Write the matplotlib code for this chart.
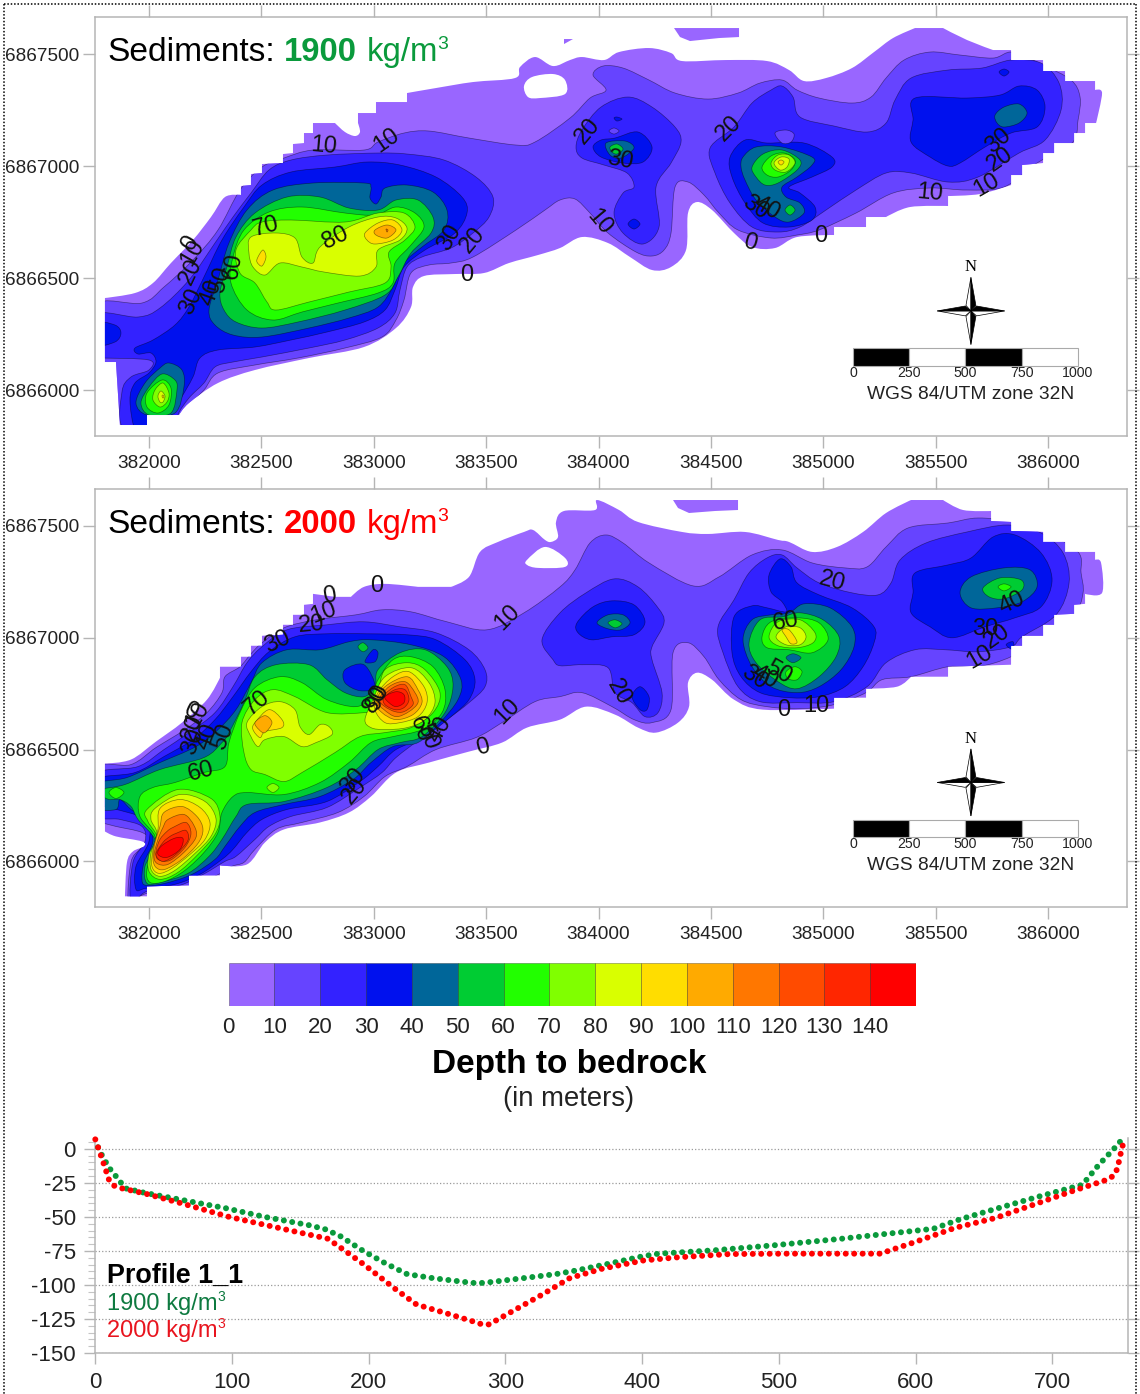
import numpy as np
import matplotlib
matplotlib.use("Agg")
import matplotlib.pyplot as plt
from matplotlib.path import Path
from matplotlib.patches import PathPatch, Polygon, Rectangle
from matplotlib.lines import Line2D

plt.rcParams['font.family'] = ['Liberation Sans', 'DejaVu Sans']
plt.rcParams['axes.unicode_minus'] = False

W, H = 1140, 1394

# colour classes of the depth scale (m)
depth_levels = list(range(0, 150, 10))
depth_colors = ['#9966FF', '#6644FF', '#3322FF', '#0011EE', '#006699', '#00CC33', '#22FF00', '#80FF00',
                '#D9FF00', '#FFDD00', '#FFAA00', '#FF7700', '#FF4B00', '#FF2600', '#FF0000']

# digitised map sheet units: 1 unit is about 4.45 m, calibrated on the grid ticks
SHEET_X0, SHEET_Y0 = 149.0, 390.0
M_PER_UNIT_X, M_PER_UNIT_Y = 500 / 112.4, 500 / 112.0

# ---------- map 1, 1900 kg/m3: contour outlines ----------
m1_domain = [(105,298),(105,362),(116,362),(120,425),(147,425),(147,415),(179,415),(189,403),(218,383),(255,370),(309,358),
    (364,347),(396,328),(411,307),(413,287),(424,276),(455,274),(484,273),(509,263),(538,255),(560,248),(582,237),(608,243),
    (630,257),(652,270),(671,267),(686,250),(688,213),(697,202),(712,210),(734,233),(752,247),(775,248),(797,237),(834,235),
    (834,227),(866,227),(866,217),(886,217),(910,207),(948,206),(948,196),(980,194),(1011,185),(1011,175),(1022,175),(1022,165),
    (1043,163),(1043,153),(1054,153),(1054,143),(1074,143),(1074,133),(1085,133),(1085,123),(1096,123),(1102,93),(1095,90),
    (1095,81),(1065,81),(1065,71),(1043,71),(1043,60),(1011,60),(1011,50),(993,50),(967,40),(943,28),(915,28),(893,38),(874,52),
    (852,68),(826,78),(804,81),(789,70),(767,61),(726,60),(682,61),(671,53),(649,48),(619,52),(604,60),(582,57),(570,60),(553,66),
    (535,57),(520,67),(515,78),(473,82),(436,88),(407,93),(407,102),(376,102),(376,113),(358,113),(358,123),(360,132),(355,136),
    (345,132),(335,123),(313,123),(313,133),(304,133),(304,143),(293,144),(293,153),(283,154),(283,163),(262,164),(262,173),
    (251,174),(251,185),(241,186),(241,195),(225,197),(211,217),(193,240),(171,263),(153,283),(135,293)]
m1_hole = [(524,86),(532,77),(553,74),(565,80),(565,94),(540,98),(528,97)]
m1_island_a = [(674,28),(739,28),(739,37),(719,38),(690,41),(680,37)]
m1_island_b = [(564,39),(573,39),(564,44)]

m1_c10 = [(95,305),(142,303),(164,287),(193,260),(218,230),(240,190),(262,167),(284,158),(313,150),(364,150),(378,142),(404,133),
    (429,131),(469,138),(516,145),(535,142),(570,118),(590,98),(606,90),(593,75),(603,66),(623,68),(649,80),(675,93),(708,99),
    (738,93),(760,83),(782,80),(797,90),(819,98),(852,103),(871,97),(886,78),(904,60),(930,52),(960,55),(993,58),(1013,52),(1043,65),
    (1071,80),(1080,97),(1078,120),(1072,143),(1037,163),(1004,187),(967,190),(930,188),(893,193),(856,213),(819,230),(797,235),
    (771,238),(738,230),(719,213),(704,195),(688,182),(675,187),(671,233),(664,250),(652,256),(636,252),(608,233),(590,213),
    (575,199),(560,200),(545,210),(516,230),(473,257),(451,263),(429,265),(411,273),(404,300),(396,320),(382,337),(345,348),
    (298,358),(255,365),(218,373),(204,390),(185,410),(175,430),(116,430),(116,400),(113,367),(100,362),(95,362)]
m1_c20_w = [(95,315),(138,317),(160,308),(189,280),(215,243),(233,217),(251,193),(269,170),(291,160),(327,155),(378,153),(407,154),
    (444,160),(476,177),(493,197),(489,217),(473,233),(451,248),(422,257),(407,267),(400,290),(395,313),(378,328),(345,340),
    (309,348),(262,357),(233,362),(215,367),(204,383),(189,398),(178,415),(178,430),(125,430),(122,392),(131,377),(149,370),
    (149,360),(100,358),(95,358)]
m1_c20_c = [(628,97),(652,107),(675,127),(681,142),(671,163),(656,187),(659,227),(643,244),(623,233),(614,213),(623,193),(634,187),
    (627,173),(604,165),(582,158),(576,147),(582,130),(601,107)]
m1_c20_e = [(782,86),(793,97),(800,117),(834,126),(867,132),(886,123),(895,100),(911,78),(948,70),(982,68),(1011,60),(1041,63),
    (1059,83),(1061,110),(1045,140),(1019,153),(978,177),(948,182),(911,173),(886,173),(856,190),(826,210),(800,227),(778,232),
    (752,227),(730,203),(715,173),(710,148),(734,127),(752,103),(771,90)]
m1_c30_a = [(95,323),(115,325),(121,333),(115,342),(95,345)]
m1_c30_w = [(135,348),(153,340),(175,325),(189,307),(204,277),(222,240),(244,207),(262,185),(291,172),(335,167),(367,162),(400,165),
    (436,177),(462,197),(467,213),(455,233),(425,250),(404,267),(395,290),(385,310),(364,322),(327,332),(291,340),(255,347),
    (218,350),(200,358),(193,377),(180,400),(171,415),(145,430),(135,430),(130,400),(135,383),(149,373),(156,362),(151,353),(138,354)]
m1_c30_c = [(615,138),(638,132),(652,147),(643,162),(623,163),(601,157),(593,147),(601,140)]
m1_c30_b = [(634,219),(640,224),(634,229),(628,224)]
m1_c30_d = [(614,118),(617,117),(622,119),(617,121)]
m1_c30_e = [(745,140),(767,143),(804,143),(832,157),(832,167),(812,177),(789,187),(800,193),(815,207),(812,220),(789,227),(763,223),
    (745,203),(732,177),(730,157)]
m1_c30_f = [(915,98),(967,98),(1000,95),(1019,86),(1037,90),(1045,107),(1037,127),(1011,133),(985,147),(960,163),(948,166),(930,157),
    (911,142),(913,120)]
m1_c30_g = [(999,72),(1004,69),(1009,72),(1004,76)]
m1_c10_i = [(609,131),(614,128),(619,131),(614,134)]
m1_c10_j = [(775,133),(786,130),(794,134),(791,142),(782,143)]
m1_c40_w = [(209,310),(218,280),(229,243),(247,210),(273,190),(313,183),(364,183),(371,187),(370,198),(376,204),(381,197),(385,188),
    (407,185),(433,192),(447,210),(444,230),(422,247),(404,263),(393,287),(378,307),(349,318),(309,328),(262,337),(233,335),(215,325)]
m1_c40_s = [(169,363),(182,370),(184,387),(175,413),(147,415),(136,403),(145,383),(160,368)]
m1_c40_c = [(606,143),(625,141),(634,148),(621,158),(610,155)]
m1_c40_e = [(743,157),(756,147),(782,147),(812,157),(812,165),(797,177),(782,187),(786,197),(800,203),(804,213),(789,222),(775,217),
    (756,200),(745,180),(741,167)]
m1_c40_f = [(995,115),(1004,107),(1019,104),(1027,113),(1019,123),(1004,127),(997,123)]
m1_c50_w = [(220,293),(227,267),(236,237),(255,213),(287,197),(320,197),(349,208),(378,210),(396,200),(418,200),(433,217),(431,233),
    (411,253),(398,277),(385,295),(345,310),(298,322),(262,328),(236,322),(224,310)]
m1_c50_s = [(162,374),(175,380),(177,390),(171,413),(149,415),(141,403),(149,387)]
m1_c50_c = [(610,147),(617,144),(623,149),(617,154),(612,152)]
m1_c50_e = [(752,167),(763,154),(782,150),(800,160),(797,170),(778,183),(765,185),(756,177)]
m1_c50_b = [(785,210),(790,205),(795,210),(790,215)]
m1_c60_w = [(231,283),(233,257),(244,230),(269,212),(302,207),(345,213),(375,215),(396,207),(415,213),(424,227),(411,245),(395,263),
    (393,283),(378,293),(338,303),(302,312),(273,320),(247,310)]
m1_c60_s = [(162,380),(171,388),(169,405),(158,413),(147,407),(147,393)]
m1_c60_e = [(762,167),(771,156),(784,153),(795,160),(791,170),(778,177),(767,175)]
m1_c70_w = [(240,273),(236,250),(251,230),(262,222),(291,220),(345,222),(378,213),(404,213),(415,227),(405,240),(389,252),(391,267),
    (385,283),(349,292),(309,302),(276,310),(267,302),(255,283)]
m1_c70_s = [(163,383),(169,393),(167,402),(160,407),(153,400),(155,390)]
m1_c70_e = [(771,163),(778,155),(789,155),(795,163),(786,172),(775,170)]
m1_c80_w = [(251,237),(276,233),(295,238),(302,257),(313,263),(320,247),(349,227),(378,217),(396,218),(407,228),(400,240),(378,250),
    (376,267),(360,276),(324,272),(302,267),(280,263),(265,275),(253,267),(249,253)]
m1_c80_s = [(161,391),(165,396),(163,402),(160,402),(158,396)]
m1_c80_e = [(774,163),(781,157),(789,159),(787,167),(780,170)]
m1_c90_a = [(365,233),(378,223),(393,220),(402,230),(393,240),(375,244),(367,240)]
m1_c90_b = [(258,257),(263,250),(266,257),(262,266),(257,262)]
m1_c90_s = [(162,396),(163,395),(164,397),(163,398)]
m1_c90_e = [(778,162),(781,160),(784,162),(781,165)]
m1_c100 = [(375,230),(387,225),(396,230),(387,238),(376,235)]
m1_c110 = [(386,229),(388,230),(387,232)]

m1_bands = [(10,m1_c10),(20,m1_c20_w),(20,m1_c20_c),(20,m1_c20_e),(30,m1_c30_a),(30,m1_c30_w),(30,m1_c30_c),(30,m1_c30_b),(30,m1_c30_d),
    (30,m1_c30_e),(30,m1_c30_f),(30,m1_c30_g),(10,m1_c10_i),(10,m1_c10_j),(40,m1_c40_w),(40,m1_c40_s),(40,m1_c40_c),(40,m1_c40_e),(40,m1_c40_f),
    (50,m1_c50_w),(50,m1_c50_s),(50,m1_c50_c),(50,m1_c50_e),(50,m1_c50_b),(60,m1_c60_w),(60,m1_c60_s),(60,m1_c60_e),(70,m1_c70_w),
    (70,m1_c70_s),(70,m1_c70_e),(80,m1_c80_w),(80,m1_c80_s),(80,m1_c80_e),(90,m1_c90_a),(90,m1_c90_b),(90,m1_c90_s),(90,m1_c90_e),
    (100,m1_c100),(110,m1_c110)]

m1_labels = [('10',324,146,-5),('10',387,141,35),('0',467,275,0),('70',266,227,15),('80',335,238,25),('30',449,238,60),('20',473,240,50),
    ('0',190,243,60),('10',193,253,60),('20',191,272,65),('30',191,302,65),('40',211,293,70),('50',221,280,75),('60',233,266,80),
    ('20',588,131,50),('30',620,160,-10),('10',599,222,-50),('20',729,128,45),('30',755,208,-35),('40',767,208,-30),('0',750,243,-15),
    ('0',821,236,0),('10',930,193,-5),('10',987,185,30),('20',1000,160,35),('30',998,141,40)]

# ---------- map 2, 2000 kg/m3: contour outlines ----------
m2_domain = [(105,292),(105,360),(116,365),(142,370),(144,375),(133,380),(127,391),(125,425),(147,425),(147,415),(189,414),(189,404),
    (220,404),(220,394),(247,393),(265,371),(284,358),(320,351),(349,341),(371,325),(396,301),(429,291),(469,280),(502,271),(527,256),
    (560,248),(586,235),(615,243),(638,256),(656,261),(678,251),(689,235),(688,211),(697,201),(712,208),(734,228),(763,238),(834,237),
    (834,226),(866,226),(866,217),(897,215),(911,205),(948,205),(948,195),(980,194),(1011,193),(1011,174),(1022,174),(1022,164),
    (1043,164),(1043,153),(1054,153),(1054,143),(1074,142),(1074,133),(1085,132),(1085,122),(1102,121),(1101,91),(1095,88),(1095,80),
    (1065,80),(1065,70),(1043,70),(1043,60),(1011,59),(1011,50),(991,49),(991,39),(963,38),(943,28),(911,28),(886,41),(863,60),(837,75),
    (812,80),(789,70),(778,68),(745,60),(708,62),(682,60),(638,50),(619,38),(597,28),(595,38),(564,39),(556,50),(558,65),(551,70),(545,68),
    (533,58),(524,60),(498,70),(480,80),(469,105),(451,115),(418,115),(385,112),(364,115),(351,125),(335,125),(313,122),(313,132),(304,133),
    (304,143),(293,143),(293,153),(283,153),(283,163),(262,164),(262,174),(251,174),(251,185),(241,185),(241,195),(220,195),(220,206),
    (207,228),(182,251),(156,270),(131,288)]
m2_hole = [(527,88),(545,75),(565,86),(565,95),(538,96),(527,93)]
m2_island = [(673,28),(738,28),(738,38),(715,39),(689,41),(678,36)]

m2_c10 = [(95,297),(131,293),(156,276),(185,258),(207,241),(222,221),(225,205),(240,195),(251,182),(262,171),(284,156),(316,148),(356,143),
    (382,138),(411,140),(447,150),(487,158),(524,141),(560,115),(575,98),(590,71),(606,63),(623,71),(649,91),(693,114),(719,105),(752,83),
    (782,78),(812,91),(845,96),(867,95),(886,75),(908,56),(948,51),(978,46),(1015,50),(1045,60),(1078,80),(1081,101),(1083,121),(1074,143),
    (1043,165),(1011,185),(978,195),(948,195),(911,205),(882,208),(866,221),(834,233),(800,237),(767,235),(741,228),(719,208),(704,185),
    (688,171),(673,181),(671,238),(652,251),(634,248),(612,235),(582,221),(560,225),(535,230),(502,251),(476,266),(436,278),(407,295),(385,305),
    (364,325),(338,341),(302,351),(276,358),(255,378),(244,391),(232,395),(215,405),(189,416),(147,422),(135,430),(128,430),(131,391),(140,378),(151,370),
    (142,361),(116,355),(100,351),(95,351)]
m2_c20_w = [(95,303),(138,295),(164,278),(189,261),(215,241),(233,215),(247,191),(262,175),(287,158),(327,153),(364,150),(400,155),(436,161),
    (469,178),(485,198),(485,215),(469,231),(447,248),(422,266),(396,286),(382,301),(360,316),(327,336),(291,345),(269,355),(255,368),(236,385),
    (225,390),(205,402),(180,414),(147,420),(131,430),(133,391),(145,370),(142,355),(120,348),(95,343)]
m2_c20_c = [(614,107),(638,115),(658,136),(664,151),(652,175),(652,188),(662,221),(658,241),(645,245),(632,231),(615,221),(608,196),(582,193),
    (560,194),(553,188),(542,168),(560,141),(586,121)]
m2_c20_e = [(782,83),(797,96),(819,111),(852,121),(878,123),(891,111),(900,88),(926,71),(967,60),(1008,53),(1041,61),(1063,81),(1069,111),
    (1056,143),(1022,165),(1011,175),(978,180),(945,178),(915,178),(886,191),(867,215),(834,230),(797,231),(760,230),(738,215),(723,181),
    (718,155),(734,128),(749,101),(767,86)]
m2_c30_w = [(95,308),(135,301),(164,285),(193,268),(215,248),(233,225),(251,200),(269,180),(295,165),(327,162),(367,162),(407,163),(436,168),
    (465,188),(475,208),(469,228),(451,245),(425,265),(396,278),(378,295),(360,310),(327,330),(287,338),(262,348),(247,361),(233,378),(222,388),
    (200,403),(175,413),(146,417),(136,418),(136,395),(149,370),(145,348),(109,336),(95,333)]
m2_c30_c = [(577,151),(593,135),(612,129),(634,133),(645,150),(634,163),(612,165),(591,168),(578,161)]
m2_c30_b = [(632,225),(640,215),(649,225),(647,238),(640,238)]
m2_c30_e = [(769,103),(780,87),(791,95),(797,111),(819,123),(852,136),(874,155),(874,171),(863,195),(845,215),(819,225),(789,226),(760,221),
    (741,205),(732,181),(734,145),(752,134),(767,136),(786,140),(782,130),(771,120)]
m2_c30_f = [(915,101),(948,93),(971,86),(993,65),(1015,63),(1041,81),(1052,108),(1041,135),(1015,146),(985,155),(952,166),(930,155),(911,141),(913,121)]
m2_c30_g = [(1006,173),(1013,170),(1013,178)]
m2_c40_w = [(95,313),(127,306),(160,291),(196,275),(218,258),(236,238),(251,211),(262,191),(287,178),(320,178),(349,170),(371,168),(411,173),
    (444,185),(461,208),(458,228),(440,251),(418,271),(393,275),(371,291),(353,308),(320,325),(284,333),(255,341),(240,355),(225,375),(215,388),
    (192,403),(165,412),(146,414),(142,408),(144,391),(153,368),(142,345),(131,338),(120,328),(116,338),(95,336)]
m2_c40_c = [(597,151),(608,143),(623,143),(630,151),(621,158),(608,157)]
m2_c40_e = [(743,168),(752,148),(771,143),(789,141),(804,132),(830,136),(852,155),(854,175),(841,198),(819,215),(797,221),(771,215),(752,195)]
m2_c40_f = [(960,121),(971,105),(1004,96),(1030,98),(1037,115),(1022,130),(997,136),(971,136)]
m2_c50_w = [(100,318),(125,313),(160,298),(204,286),(222,271),(229,261),(244,231),(255,205),(276,193),(309,193),(327,208),(345,221),(364,225),
    (375,215),(378,198),(400,181),(425,178),(447,195),(453,215),(445,241),(422,265),(400,271),(378,278),(356,298),(327,316),(284,330),(247,333),
    (236,345),(222,368),(209,385),(188,402),(160,411),(147,412),(145,395),(156,371),(138,348),(131,335),(120,328),(109,328),(100,323)]
m2_c50_t = [(358,175),(363,171),(368,176),(363,180)]
m2_c50_c = [(608,151),(615,148),(622,152),(615,156)]
m2_c50_e = [(749,171),(760,148),(782,145),(800,141),(823,148),(839,165),(836,185),(819,205),(797,217),(778,210),(756,191)]
m2_c50_f = [(983,116),(1000,106),(1021,108),(1022,118),(1004,127),(989,125)]
m2_c30_n = [(345,198),(364,193),(375,215),(360,219),(345,211)]
m2_c30_o = [(365,190),(373,178),(378,181),(375,190)]
m2_c60_w = [(225,295),(229,271),(240,241),(255,216),(280,205),(302,211),(327,228),(356,235),(371,225),(378,208),(393,188),(411,185),(433,195),
    (445,218),(442,241),(422,258),(393,265),(371,271),(349,291),(320,311),(284,323),(247,321),(233,325),(222,341),(218,361),(205,380),(185,399),
    (165,410),(150,411),(147,398),(156,368),(140,345),(140,325),(153,316),(175,311),(204,301)]
m2_c60_a = [(109,321),(116,316),(124,321),(116,327)]
m2_c60_e = [(762,165),(771,150),(797,146),(819,151),(828,168),(812,181),(789,178),(767,176)]
m2_c60_b = [(786,200),(795,195),(802,200),(797,208),(788,207)]
m2_c60_f = [(998,115),(1004,112),(1011,115),(1004,119)]
m2_c40_h = [(786,186),(793,182),(801,186),(793,191)]
m2_c70_w = [(251,298),(244,281),(242,251),(255,228),(273,218),(295,225),(327,241),(364,241),(371,238),(378,221),(385,198),(407,191),(425,198),
    (440,221),(433,241),(411,256),(385,261),(360,265),(335,281),(302,301),(284,310),(265,303)]
m2_c70_a = [(267,316),(273,312),(279,316),(273,321)]
m2_c70_s = [(147,338),(178,318),(211,327),(220,345),(215,363),(198,383),(178,401),(160,408),(149,400),(149,383),(157,366),(148,350)]
m2_c70_e = [(769,165),(778,150),(800,148),(815,161),(813,171),(797,176),(778,174)]
m2_c80_w = [(247,251),(262,235),(280,230),(295,238),(300,255),(309,263),(320,253),(329,255),(332,263),(316,271),(302,275),(284,265),(265,268),(258,275),(251,265)]
m2_c80_n = [(365,248),(373,228),(385,205),(411,196),(429,211),(435,231),(425,248),(407,256),(385,258),(371,256)]
m2_c80_s = [(155,337),(180,323),(205,330),(216,347),(211,365),(195,382),(175,399),(160,405),(151,398),(151,382),(157,362),(151,348)]
m2_c80_e = [(776,165),(786,155),(800,156),(806,165),(800,173),(786,173)]
m2_c90_w = [(255,251),(269,238),(282,248),(282,256),(265,260),(260,266),(253,258)]
m2_c90_n = [(375,238),(378,221),(393,205),(409,200),(424,215),(427,231),(418,245),(400,251),(385,251)]
m2_c90_s = [(160,337),(180,328),(200,336),(210,351),(205,368),(190,383),(172,397),(159,402),(152,395),(153,378),(158,358)]
m2_c90_e = [(782,158),(789,158),(797,170),(791,172),(786,165)]
m2_c100_w = [(255,251),(265,244),(272,251),(265,261),(259,258)]
m2_c100_n = [(376,231),(385,215),(407,205),(418,218),(422,231),(413,243),(396,248),(382,241)]
m2_c100_s = [(164,341),(182,335),(197,345),(203,358),(198,372),(182,388),(165,398),(156,396),(153,387),(155,371),(160,355)]
m2_c110_n = [(378,230),(389,215),(405,210),(415,221),(418,231),(409,240),(396,245),(384,238)]
m2_c110_s = [(168,348),(184,343),(194,354),(196,366),(184,381),(168,393),(157,392),(154,384),(158,368),(163,356)]
m2_c120_n = [(380,228),(393,216),(405,213),(411,225),(413,233),(404,240),(395,240),(385,235)]
m2_c120_s = [(173,356),(186,351),(191,362),(185,376),(170,389),(158,388),(156,380),(160,368),(167,360)]
m2_c130_n = [(384,226),(395,218),(405,218),(409,228),(404,236),(395,238),(385,233)]
m2_c130_s = [(176,362),(186,359),(188,369),(176,383),(163,390),(156,383),(163,371),(170,365)]
m2_c140_n = [(385,225),(396,220),(404,223),(404,231),(396,235),(389,231)]
m2_c140_s = [(174,367),(183,367),(180,378),(167,386),(158,383),(161,375)]

m2_bands = [(10,m2_c10),(20,m2_c20_w),(20,m2_c20_c),(20,m2_c20_e),(30,m2_c30_w),(30,m2_c30_c),(30,m2_c30_b),(30,m2_c30_e),(30,m2_c30_f),(30,m2_c30_g),
    (40,m2_c40_w),(40,m2_c40_c),(40,m2_c40_e),(40,m2_c40_f),(50,m2_c50_w),(50,m2_c50_t),(50,m2_c50_c),(50,m2_c50_e),(50,m2_c50_f),(30,m2_c30_n),(30,m2_c30_o),
    (60,m2_c60_w),(60,m2_c60_a),(60,m2_c60_e),(60,m2_c60_b),(60,m2_c60_f),(40,m2_c40_h),(70,m2_c70_w),(70,m2_c70_a),(70,m2_c70_s),(70,m2_c70_e),
    (80,m2_c80_w),(80,m2_c80_n),(80,m2_c80_s),(80,m2_c80_e),(90,m2_c90_w),(90,m2_c90_n),(90,m2_c90_s),(90,m2_c90_e),(100,m2_c100_w),(100,m2_c100_n),(100,m2_c100_s),
    (110,m2_c110_n),(110,m2_c110_s),(120,m2_c120_n),(120,m2_c120_s),(130,m2_c130_n),(130,m2_c130_s),(140,m2_c140_n),(140,m2_c140_s)]

m2_labels = [('0',377,114,0),('0',330,124,10),('10',324,141,20),('20',311,153,5),('30',277,170,25),('10',507,146,45),('70',257,231,40),('80',375,228,60),
    ('90',378,225,65),('10',507,240,45),('60',201,300,15),('0',483,276,15),('30',353,310,50),('20',355,320,50),('0',191,240,-25),('10',198,243,60),('20',193,256,70),
    ('30',193,270,70),('40',207,265,70),('50',223,265,70),('60',420,258,-70),('50',427,265,-70),('40',440,258,60),('20',832,110,-15),('60',786,150,10),
    ('20',619,221,-60),('0',784,238,0),('10',816,234,0),('30',754,206,-35),('40',765,206,-30),('50',778,201,-30),('40',1012,131,25),('30',985,157,0),
    ('20',997,165,35),('10',980,185,30)]

# ---------- profile 1_1 ----------
dist_1900 = [2,6,11,15,22,37,66,95,124,156,168,179,196,212,223,228,247,276,284,313,337,351,375,400,412,453,498,546,578,613,633,663,692,716,722,726,734,742,747,751]
depth_1900 = [1.2,-7,-15,-20,-29,-32.5,-38,-43.5,-50,-56,-59,-64,-75,-84,-89.5,-92,-95,-98.5,-98.5,-95,-92,-89.5,-84.5,-79,-77,-74.5,-70.7,-66,-62.5,-58.7,-51.6,-42.8,-34.5,-28,-26.4,-21.5,-11.7,-3.2,2.2,7]
dist_2000 = [0,2,6,10,13.6,19.4,37,63,98,140,170,180,196,220,235,260,277,283,288,303,327,347,371,401,426,464,506,575,580,598,629,658,692,716,740,745,748,749,750.5,752]
depth_2000 = [7,1.2,-10.5,-22.7,-27,-29,-33,-40,-50,-59.4,-66,-73,-84.6,-103.4,-114.4,-121.8,-127,-129,-129,-120.5,-107,-95,-88,-82,-79.7,-77.3,-77,-77,-75,-69,-58,-50.9,-39,-30.6,-22.7,-19.6,-13.7,-7.6,-1.5,4.6]

x_ticks = list(range(382000, 386500, 500))
y_ticks = [6866000, 6866500, 6867000, 6867500]
scale_marks = [0, 250, 500, 750, 1000]
scale_origin_e, scale_top_n, scale_bottom_n = 385131, 6866187, 6866107


def to_map(pts):
    a = np.array(pts, dtype=float)
    e = 382000 + (a[:, 0] - SHEET_X0) * M_PER_UNIT_X
    n = 6866000 + (SHEET_Y0 - a[:, 1]) * M_PER_UNIT_Y
    return np.column_stack([e, n])


def smooth_path(pts, keep_stairs=False):
    # closed Catmull-Rom outline through the digitised vertices
    raw = np.array(pts, dtype=float)
    p = to_map(pts)
    n = len(p)
    tangents = []
    for i in range(n):
        t = (p[(i + 1) % n] - p[i - 1]) / 6
        if keep_stairs:
            d1 = raw[i] - raw[i - 1]
            d2 = raw[(i + 1) % n] - raw[i]
            if 0 in d1 or 0 in d2:
                t = t * 0
        tangents.append(t)
    verts = [p[0]]
    codes = [Path.MOVETO]
    for i in range(n):
        j = (i + 1) % n
        verts += [p[i] + tangents[i], p[j] - tangents[j], p[j]]
        codes += [Path.CURVE4] * 3
    return Path(verts, codes)


def add_axes_px(left, top, right, bottom):
    return fig.add_axes([left / W, 1 - bottom / H, (right - left) / W, (bottom - top) / H])


def fig_text(x, y, s, **kw):
    fig.text(x / W, 1 - y / H, s, **kw)


def draw_map(top, bottom, domain, holes, islands, bands, labels, word, color):
    ax = add_axes_px(95, top, 1126.5, bottom)
    ax.set_xlim(381760, 386348)
    ax.set_ylim(6865796, 6867664)

    dom = PathPatch(smooth_path(domain, keep_stairs=True), facecolor=depth_colors[0], edgecolor='none', zorder=1)
    ax.add_patch(dom)
    for isl in islands:
        ax.add_patch(Polygon(to_map(isl), closed=True, facecolor=depth_colors[0], edgecolor='none', zorder=1))
    for i, (level, pts) in enumerate(bands):
        patch = PathPatch(smooth_path(pts), facecolor=depth_colors[level // 10], edgecolor=(0, 0, 0, 0.45),
                          linewidth=0.5, zorder=2 + i * 0.01)
        ax.add_patch(patch)
        patch.set_clip_path(dom)
    for h in holes:
        ax.add_patch(PathPatch(smooth_path(h), facecolor='white', edgecolor='none', zorder=3))

    for s, x, y, rot in labels:
        xy = to_map([(x, y)])[0]
        ax.text(xy[0], xy[1], s, fontsize=17, rotation=rot, ha='center', va='center', color='#111111', zorder=5)

    # scale bar
    for i in range(4):
        ax.add_patch(Rectangle((scale_origin_e + scale_marks[i], scale_bottom_n), scale_marks[i + 1] - scale_marks[i],
                               scale_top_n - scale_bottom_n, facecolor='black' if i % 2 == 0 else 'white',
                               edgecolor='#aaaaaa', linewidth=0.8, zorder=4))
    for m in scale_marks:
        ax.text(scale_origin_e + m, scale_bottom_n - 30, str(m), fontsize=10.2, ha='center', va='center', color='#222222')
    ax.text(scale_origin_e + 525, scale_bottom_n - 125, 'WGS 84/UTM zone 32N', fontsize=13.8, ha='center', va='center', color='#222222')

    # north arrow, built arm by arm around its centre
    cx, cy = 385656, 6866353
    for dx, dy, black_side in [(0, 1, 1), (1, 0, -1), (0, -1, -1), (-1, 0, 1)]:
        tip = (cx + dx * 150, cy + dy * 150)
        a = (cx - dy * 22 + dx * 25, cy + dx * 22 + dy * 25)
        b = (cx + dy * 22 + dx * 25, cy - dx * 22 + dy * 25)
        sides = [b, a] if black_side < 0 else [a, b]
        ax.add_patch(Polygon([(cx, cy), sides[0], tip], closed=True, facecolor='white', edgecolor='black', linewidth=0.5, zorder=4))
        ax.add_patch(Polygon([(cx, cy), sides[1], tip], closed=True, facecolor='black', edgecolor='black', linewidth=0.5, zorder=4))
    ax.text(cx, cy + 195, 'N', family='Liberation Serif', fontsize=12, ha='center', va='center', color='black')

    ax.set_xticks(x_ticks)
    ax.set_yticks(y_ticks)
    ax.ticklabel_format(useOffset=False, style='plain')
    ax.tick_params(direction='out', length=8.6, width=1, color='#b5b5b5', labelsize=13.7, labelcolor='#222222',
                   top=True, right=True, pad=3)
    ax.tick_params(axis='x', pad=5)
    for sp in ax.spines.values():
        sp.set_color('#b5b5b5')
        sp.set_linewidth(1.1)

    # heading sits inside the frame
    base = top + 43.5
    fig_text(107, base, 'Sediments:', fontsize=24.1, color='black', va='baseline')
    fig_text(284, base, word, fontsize=23.7, fontweight='bold', color=color, va='baseline')
    fig_text(367, base, 'kg/m', fontsize=23.7, color=color, va='baseline')
    fig_text(437, base - 12, '3', fontsize=14, color=color, va='baseline')
    return ax


fig = plt.figure(figsize=(W / 100, H / 100), dpi=100, facecolor='white')

draw_map(17.3, 435.7, m1_domain, [m1_hole], [m1_island_a, m1_island_b], m1_bands, m1_labels, '1900', '#0A9A3C')
draw_map(489.3, 907, m2_domain, [m2_hole], [m2_island], m2_bands, m2_labels, '2000', '#FF0000')

# colour scale
cb = add_axes_px(228.5, 963, 916, 1006)
cb.bar(depth_levels, [1] * len(depth_levels), width=10, align='edge', color=depth_colors, edgecolor=(0, 0, 0, 0.4), linewidth=0.5)
cb.set_xlim(0, 150)
cb.set_ylim(0, 1)
cb.set_yticks([])
cb.set_xticks(depth_levels)
cb.tick_params(axis='x', length=0, labelsize=16, pad=8, labelcolor='#222222')
for sp in cb.spines.values():
    sp.set_visible(False)
fig_text(569, 1064, 'Depth to bedrock', fontsize=24, fontweight='bold', ha='center', va='center', color='black')
fig_text(569, 1099, '(in meters)', fontsize=19.8, ha='center', va='center', color='#222222')

# profile
ax_p = add_axes_px(95.3, 1138, 1127.5, 1353)
ax_p.set_xlim(0, 755)
ax_p.set_ylim(-150, 8)
ax_p.plot(dist_1900, depth_1900, color='#0A9A3C', lw=4.3, linestyle=(0, (0.01, 1.405)), dash_capstyle='round', clip_on=False, zorder=3)
ax_p.plot(dist_2000, depth_2000, color='#FF0000', lw=4.3, linestyle=(0, (0.01, 1.405)), dash_capstyle='round', clip_on=False, zorder=4)
ax_p.set_xticks(range(0, 800, 100))
ax_p.set_yticks([0, -25, -50, -75, -100, -125, -150])
ax_p.set_yticks(np.arange(-145, 8, 5), minor=True)
ax_p.grid(axis='y', which='major', linestyle=':', color='#999999', linewidth=0.9)
ax_p.set_axisbelow(True)
ax_p.tick_params(axis='both', which='major', length=8, width=1, color='#b5b5b5', labelsize=16, labelcolor='#222222', pad=6)
ax_p.tick_params(axis='y', which='major', right=True)
ax_p.tick_params(axis='y', which='minor', length=5, width=0.8, color='#c5c5c5')
ax_p.spines['top'].set_visible(False)
for side in ['left', 'right', 'bottom']:
    ax_p.spines[side].set_color('#b5b5b5')
    ax_p.spines[side].set_linewidth(1.1)

fig_text(107, 1283, 'Profile 1_1', fontsize=19.4, fontweight='bold', color='black', va='baseline')
fig_text(107, 1310, '1900 kg/m', fontsize=17, color='#0E7A40', va='baseline')
fig_text(217, 1301, '3', fontsize=10, color='#0E7A40', va='baseline')
fig_text(107, 1337, '2000 kg/m', fontsize=17, color='#E8141E', va='baseline')
fig_text(217, 1328, '3', fontsize=10, color='#E8141E', va='baseline')

# dotted page frame
frame_style = dict(color='black', lw=1.1, linestyle=(0, (1, 1.2)))
fig.add_artist(Line2D([4 / W, 1136 / W], [1 - 4 / H, 1 - 4 / H], **frame_style))
fig.add_artist(Line2D([4 / W, 4 / W], [1 - 4 / H, 0], **frame_style))
fig.add_artist(Line2D([1136 / W, 1136 / W], [1 - 4 / H, 0], **frame_style))

fig.savefig('out.png', dpi=100)
